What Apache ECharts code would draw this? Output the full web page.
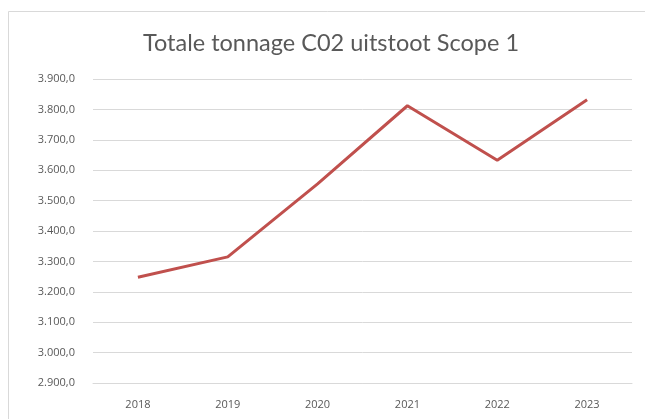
<!DOCTYPE html>
<html>
<head>
<meta charset="utf-8">
<script src="https://cdn.jsdelivr.net/npm/echarts@6/dist/echarts.min.js"></script>
<style>
html,body{margin:0;padding:0;background:#fff;}
#chart{width:645px;height:419px;}
</style>
</head>
<body>
<div id="chart"></div>
<script>
const title = 'Totale tonnage C02 uitstoot Scope 1';
const categories = ['2018', '2019', '2020', '2021', '2022', '2023'];
const values = [3248, 3315, 3555, 3812, 3633, 3832];
const yMin = 2900;
const yMax = 3900;
const yStep = 100;

function fmtNL(v) {
  const s = Math.round(v).toString().replace(/\B(?=(\d{3})+(?!\d))/g, '.');
  return s + ',0';
}

const chart = echarts.init(document.getElementById('chart'), null, {renderer: 'canvas'});
chart.setOption({
  backgroundColor: '#fff',
  animation: false,
  graphic: [{
    type: 'rect',
    shape: {x: 8.5, y: 11.5, width: 700, height: 500},
    style: {fill: 'none', stroke: '#d9d9d9', lineWidth: 1},
    silent: true
  }],
  title: {
    text: title,
    left: 326,
    top: 26,
    textAlign: 'center',
    textStyle: {
      fontFamily: 'Lato',
      fontWeight: 'normal',
      fontSize: 23.5,
      color: '#595959'
    }
  },
  grid: {left: 93, right: 13, top: 79, bottom: 36, containLabel: false},
  xAxis: {
    type: 'category',
    data: categories,
    boundaryGap: true,
    axisLine: {show: true, lineStyle: {color: '#d9d9d9', width: 1}},
    axisTick: {show: false},
    axisLabel: {color: '#595959', fontFamily: 'Open Sans', fontSize: 11, margin: 16}
  },
  yAxis: {
    type: 'value',
    min: yMin,
    max: yMax,
    interval: yStep,
    axisLine: {show: false},
    axisTick: {show: false},
    splitLine: {lineStyle: {color: '#d9d9d9', width: 1}},
    axisLabel: {
      color: '#595959', fontFamily: 'Open Sans', fontSize: 11, margin: 18,
      formatter: fmtNL
    }
  },
  series: [{
    type: 'line',
    data: values,
    symbol: 'none',
    lineStyle: {color: '#c0504d', width: 3},
    itemStyle: {color: '#c0504d'}
  }]
});
</script>
</body>
</html>
